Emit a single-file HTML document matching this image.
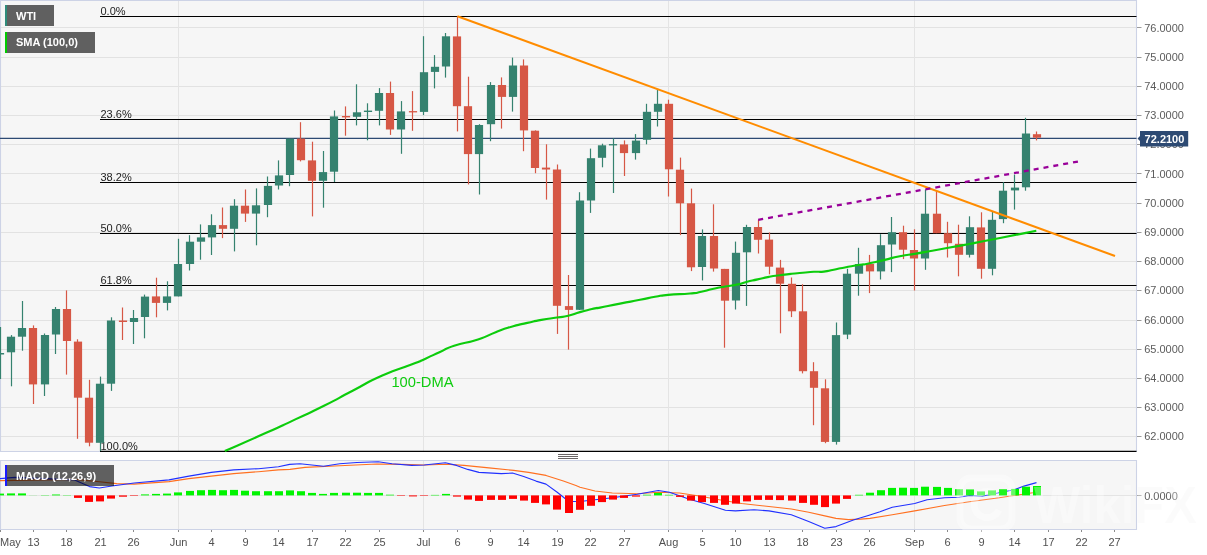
<!DOCTYPE html><html><head><meta charset="utf-8"><title>WTI</title>
<style>html,body{margin:0;padding:0;background:#fff;}body{width:1207px;height:555px;overflow:hidden;position:relative;font-family:"Liberation Sans",sans-serif;}svg{position:absolute;left:0;top:0;will-change:transform;}text{font-family:"Liberation Sans",sans-serif;}</style></head><body>
<svg width="1207" height="555" viewBox="0 0 1207 555">
<defs><clipPath id="wc"><rect x="1137" y="460" width="70" height="95"/></clipPath></defs>
<rect x="0" y="0" width="1136.5" height="451.5" fill="#f6f6f6"/>
<rect x="0" y="460.5" width="1136.5" height="69.0" fill="#f6f6f6"/>
<g stroke="#e2e2e2" stroke-width="1">
<line x1="0" y1="436.5" x2="1136.5" y2="436.5"/>
<line x1="0" y1="407.5" x2="1136.5" y2="407.5"/>
<line x1="0" y1="378.5" x2="1136.5" y2="378.5"/>
<line x1="0" y1="349.5" x2="1136.5" y2="349.5"/>
<line x1="0" y1="320.5" x2="1136.5" y2="320.5"/>
<line x1="0" y1="290.5" x2="1136.5" y2="290.5"/>
<line x1="0" y1="261.5" x2="1136.5" y2="261.5"/>
<line x1="0" y1="232.5" x2="1136.5" y2="232.5"/>
<line x1="0" y1="203.5" x2="1136.5" y2="203.5"/>
<line x1="0" y1="173.5" x2="1136.5" y2="173.5"/>
<line x1="0" y1="144.5" x2="1136.5" y2="144.5"/>
<line x1="0" y1="115.5" x2="1136.5" y2="115.5"/>
<line x1="0" y1="86.5" x2="1136.5" y2="86.5"/>
<line x1="0" y1="57.5" x2="1136.5" y2="57.5"/>
<line x1="0" y1="27.5" x2="1136.5" y2="27.5"/>
</g>
<g stroke="#e4e4e4" stroke-width="1" shape-rendering="crispEdges">
<line x1="178.5" y1="0" x2="178.5" y2="451.5"/>
<line x1="178.5" y1="460.5" x2="178.5" y2="529.5"/>
<line x1="423.5" y1="0" x2="423.5" y2="451.5"/>
<line x1="423.5" y1="460.5" x2="423.5" y2="529.5"/>
<line x1="668.5" y1="0" x2="668.5" y2="451.5"/>
<line x1="668.5" y1="460.5" x2="668.5" y2="529.5"/>
<line x1="914.5" y1="0" x2="914.5" y2="451.5"/>
<line x1="914.5" y1="460.5" x2="914.5" y2="529.5"/>
<line x1="0" y1="495.5" x2="1136.5" y2="495.5"/>
</g>
<g stroke="#cdd3e6" stroke-width="1.1" fill="none">
<path d="M0.5,451.5 V0.5 H1136.5 V451.5 Z"/>
<path d="M0.5,529.5 V460.5 H1136.5 V529.5 Z"/>
</g>
<g stroke="#9a9a9a" stroke-width="1">
<line x1="1137.0" y1="436.5" x2="1141.5" y2="436.5"/>
<line x1="1137.0" y1="407.5" x2="1141.5" y2="407.5"/>
<line x1="1137.0" y1="378.5" x2="1141.5" y2="378.5"/>
<line x1="1137.0" y1="349.5" x2="1141.5" y2="349.5"/>
<line x1="1137.0" y1="320.5" x2="1141.5" y2="320.5"/>
<line x1="1137.0" y1="290.5" x2="1141.5" y2="290.5"/>
<line x1="1137.0" y1="261.5" x2="1141.5" y2="261.5"/>
<line x1="1137.0" y1="232.5" x2="1141.5" y2="232.5"/>
<line x1="1137.0" y1="203.5" x2="1141.5" y2="203.5"/>
<line x1="1137.0" y1="173.5" x2="1141.5" y2="173.5"/>
<line x1="1137.0" y1="144.5" x2="1141.5" y2="144.5"/>
<line x1="1137.0" y1="115.5" x2="1141.5" y2="115.5"/>
<line x1="1137.0" y1="86.5" x2="1141.5" y2="86.5"/>
<line x1="1137.0" y1="57.5" x2="1141.5" y2="57.5"/>
<line x1="1137.0" y1="27.5" x2="1141.5" y2="27.5"/>
<line x1="1137.0" y1="495.5" x2="1141.5" y2="495.5"/>
</g>
<g font-size="11" fill="#5c5c5c">
<text x="1144.2" y="440.4">62.0000</text>
<text x="1144.2" y="411.2">63.0000</text>
<text x="1144.2" y="382.0">64.0000</text>
<text x="1144.2" y="352.8">65.0000</text>
<text x="1144.2" y="323.6">66.0000</text>
<text x="1144.2" y="294.4">67.0000</text>
<text x="1144.2" y="265.2">68.0000</text>
<text x="1144.2" y="236.0">69.0000</text>
<text x="1144.2" y="206.8">70.0000</text>
<text x="1144.2" y="177.6">71.0000</text>
<text x="1144.2" y="148.3">72.0000</text>
<text x="1144.2" y="119.1">73.0000</text>
<text x="1144.2" y="89.9">74.0000</text>
<text x="1144.2" y="60.7">75.0000</text>
<text x="1144.2" y="31.5">76.0000</text>
<text x="1144.2" y="499.9">0.0000</text>
</g>
<g stroke="#000" stroke-width="1.15">
<line x1="100" y1="16.5" x2="1136.5" y2="16.5"/>
<line x1="100" y1="119.5" x2="1136.5" y2="119.5"/>
<line x1="100" y1="182.5" x2="1136.5" y2="182.5"/>
<line x1="100" y1="233.5" x2="1136.5" y2="233.5"/>
<line x1="100" y1="285.5" x2="1136.5" y2="285.5"/>
<line x1="100" y1="451.3" x2="1136.5" y2="451.3"/>
</g>
<g font-size="11" fill="#222">
<text x="100.5" y="14.9">0.0%</text>
<text x="100.5" y="117.9">23.6%</text>
<text x="100.5" y="180.9">38.2%</text>
<text x="100.5" y="231.9">50.0%</text>
<text x="100.5" y="283.9">61.8%</text>
<text x="100.5" y="449.7">100.0%</text>
</g>
<line x1="0" y1="138.4" x2="1136.5" y2="138.4" stroke="#2d4a73" stroke-width="1.1"/>
<rect x="-0.10" y="327.0" width="1.2" height="52.0" fill="#35826f"/>
<rect x="-4.10" y="353.0" width="8.2" height="1.5" fill="#35826f"/>
<rect x="10.90" y="335.1" width="1.2" height="51.2" fill="#35826f"/>
<rect x="6.90" y="336.7" width="8.2" height="15.6" fill="#35826f"/>
<rect x="21.90" y="301.0" width="1.2" height="49.7" fill="#35826f"/>
<rect x="17.90" y="328.0" width="8.2" height="8.7" fill="#35826f"/>
<rect x="32.90" y="325.4" width="1.2" height="78.6" fill="#d65745"/>
<rect x="28.90" y="328.0" width="8.2" height="56.4" fill="#d65745"/>
<rect x="43.90" y="333.5" width="1.2" height="62.5" fill="#35826f"/>
<rect x="40.90" y="335.0" width="8.2" height="49.4" fill="#35826f"/>
<rect x="54.90" y="307.0" width="1.2" height="47.0" fill="#35826f"/>
<rect x="51.90" y="309.0" width="8.2" height="25.5" fill="#35826f"/>
<rect x="65.90" y="290.4" width="1.2" height="84.2" fill="#d65745"/>
<rect x="62.90" y="309.0" width="8.2" height="32.0" fill="#d65745"/>
<rect x="76.90" y="339.3" width="1.2" height="99.5" fill="#d65745"/>
<rect x="73.90" y="341.6" width="8.2" height="56.1" fill="#d65745"/>
<rect x="88.90" y="379.8" width="1.2" height="66.5" fill="#d65745"/>
<rect x="84.90" y="397.7" width="8.2" height="45.0" fill="#d65745"/>
<rect x="99.90" y="376.6" width="1.2" height="74.4" fill="#35826f"/>
<rect x="95.90" y="383.7" width="8.2" height="59.1" fill="#35826f"/>
<rect x="110.90" y="317.3" width="1.2" height="73.6" fill="#35826f"/>
<rect x="106.90" y="320.5" width="8.2" height="63.2" fill="#35826f"/>
<rect x="121.90" y="307.5" width="1.2" height="32.5" fill="#d65745"/>
<rect x="118.90" y="320.5" width="8.2" height="1.5" fill="#d65745"/>
<rect x="132.90" y="310.0" width="1.2" height="34.0" fill="#35826f"/>
<rect x="129.90" y="318.0" width="8.2" height="4.0" fill="#35826f"/>
<rect x="143.90" y="294.6" width="1.2" height="43.7" fill="#35826f"/>
<rect x="140.90" y="296.6" width="8.2" height="20.4" fill="#35826f"/>
<rect x="155.90" y="277.7" width="1.2" height="39.6" fill="#d65745"/>
<rect x="151.90" y="296.4" width="8.2" height="6.5" fill="#d65745"/>
<rect x="166.90" y="281.3" width="1.2" height="29.1" fill="#35826f"/>
<rect x="162.90" y="296.4" width="8.2" height="6.5" fill="#35826f"/>
<rect x="177.90" y="238.8" width="1.2" height="57.6" fill="#35826f"/>
<rect x="173.90" y="264.0" width="8.2" height="32.4" fill="#35826f"/>
<rect x="188.90" y="235.2" width="1.2" height="35.3" fill="#35826f"/>
<rect x="185.90" y="241.7" width="8.2" height="22.3" fill="#35826f"/>
<rect x="199.90" y="224.4" width="1.2" height="35.3" fill="#35826f"/>
<rect x="196.90" y="237.4" width="8.2" height="4.3" fill="#35826f"/>
<rect x="210.90" y="214.3" width="1.2" height="40.7" fill="#35826f"/>
<rect x="207.90" y="225.1" width="8.2" height="12.3" fill="#35826f"/>
<rect x="221.90" y="207.5" width="1.2" height="30.6" fill="#d65745"/>
<rect x="218.90" y="225.1" width="8.2" height="3.7" fill="#d65745"/>
<rect x="233.90" y="199.2" width="1.2" height="52.2" fill="#35826f"/>
<rect x="229.90" y="205.7" width="8.2" height="23.1" fill="#35826f"/>
<rect x="244.90" y="189.5" width="1.2" height="32.4" fill="#d65745"/>
<rect x="240.90" y="205.7" width="8.2" height="7.9" fill="#d65745"/>
<rect x="255.90" y="188.4" width="1.2" height="56.9" fill="#35826f"/>
<rect x="251.90" y="205.3" width="8.2" height="8.3" fill="#35826f"/>
<rect x="266.90" y="176.5" width="1.2" height="40.7" fill="#35826f"/>
<rect x="263.90" y="185.9" width="8.2" height="19.1" fill="#35826f"/>
<rect x="277.90" y="160.4" width="1.2" height="29.1" fill="#35826f"/>
<rect x="274.90" y="175.4" width="8.2" height="10.1" fill="#35826f"/>
<rect x="288.90" y="138.6" width="1.2" height="47.6" fill="#35826f"/>
<rect x="285.90" y="138.6" width="8.2" height="36.4" fill="#35826f"/>
<rect x="299.90" y="122.2" width="1.2" height="39.2" fill="#d65745"/>
<rect x="296.90" y="138.6" width="8.2" height="21.6" fill="#d65745"/>
<rect x="311.90" y="141.7" width="1.2" height="74.7" fill="#d65745"/>
<rect x="307.90" y="160.4" width="8.2" height="20.4" fill="#d65745"/>
<rect x="322.90" y="151.0" width="1.2" height="56.7" fill="#35826f"/>
<rect x="318.90" y="172.1" width="8.2" height="8.7" fill="#35826f"/>
<rect x="333.90" y="110.5" width="1.2" height="71.5" fill="#35826f"/>
<rect x="329.90" y="116.4" width="8.2" height="55.3" fill="#35826f"/>
<rect x="344.90" y="106.4" width="1.2" height="29.3" fill="#d65745"/>
<rect x="341.90" y="116.0" width="8.2" height="1.4" fill="#d65745"/>
<rect x="355.90" y="84.3" width="1.2" height="41.1" fill="#35826f"/>
<rect x="352.90" y="112.3" width="8.2" height="4.5" fill="#35826f"/>
<rect x="366.90" y="103.3" width="1.2" height="37.0" fill="#35826f"/>
<rect x="363.90" y="110.6" width="8.2" height="1.4" fill="#35826f"/>
<rect x="378.90" y="88.1" width="1.2" height="37.3" fill="#35826f"/>
<rect x="374.90" y="93.0" width="8.2" height="17.8" fill="#35826f"/>
<rect x="389.90" y="81.6" width="1.2" height="53.3" fill="#d65745"/>
<rect x="385.90" y="93.0" width="8.2" height="36.5" fill="#d65745"/>
<rect x="400.90" y="101.1" width="1.2" height="52.7" fill="#35826f"/>
<rect x="396.90" y="111.4" width="8.2" height="18.1" fill="#35826f"/>
<rect x="411.90" y="91.1" width="1.2" height="39.7" fill="#d65745"/>
<rect x="408.90" y="111.1" width="8.2" height="1.3" fill="#d65745"/>
<rect x="422.90" y="36.2" width="1.2" height="78.9" fill="#35826f"/>
<rect x="419.90" y="72.2" width="8.2" height="39.7" fill="#35826f"/>
<rect x="433.90" y="55.1" width="1.2" height="33.3" fill="#35826f"/>
<rect x="430.90" y="66.8" width="8.2" height="5.1" fill="#35826f"/>
<rect x="444.90" y="33.0" width="1.2" height="44.6" fill="#35826f"/>
<rect x="441.90" y="36.3" width="8.2" height="30.2" fill="#35826f"/>
<rect x="456.90" y="16.2" width="1.2" height="115.2" fill="#d65745"/>
<rect x="452.90" y="36.4" width="8.2" height="69.8" fill="#d65745"/>
<rect x="467.90" y="76.7" width="1.2" height="107.7" fill="#d65745"/>
<rect x="463.90" y="106.2" width="8.2" height="47.9" fill="#d65745"/>
<rect x="478.90" y="124.2" width="1.2" height="70.3" fill="#35826f"/>
<rect x="474.90" y="125.0" width="8.2" height="29.1" fill="#35826f"/>
<rect x="489.90" y="82.1" width="1.2" height="59.1" fill="#35826f"/>
<rect x="486.90" y="85.0" width="8.2" height="39.2" fill="#35826f"/>
<rect x="500.90" y="77.4" width="1.2" height="51.2" fill="#d65745"/>
<rect x="497.90" y="85.0" width="8.2" height="11.9" fill="#d65745"/>
<rect x="511.90" y="57.6" width="1.2" height="54.0" fill="#35826f"/>
<rect x="508.90" y="65.5" width="8.2" height="31.4" fill="#35826f"/>
<rect x="522.90" y="59.4" width="1.2" height="91.8" fill="#d65745"/>
<rect x="519.90" y="65.5" width="8.2" height="64.9" fill="#d65745"/>
<rect x="534.90" y="130.4" width="1.2" height="42.8" fill="#d65745"/>
<rect x="530.90" y="130.7" width="8.2" height="37.3" fill="#d65745"/>
<rect x="545.90" y="144.3" width="1.2" height="55.3" fill="#d65745"/>
<rect x="541.90" y="167.6" width="8.2" height="1.9" fill="#d65745"/>
<rect x="556.90" y="164.5" width="1.2" height="169.4" fill="#d65745"/>
<rect x="552.90" y="169.5" width="8.2" height="136.3" fill="#d65745"/>
<rect x="567.90" y="275.0" width="1.2" height="74.6" fill="#d65745"/>
<rect x="564.90" y="306.1" width="8.2" height="3.8" fill="#d65745"/>
<rect x="578.90" y="192.2" width="1.2" height="117.8" fill="#35826f"/>
<rect x="575.90" y="200.5" width="8.2" height="109.3" fill="#35826f"/>
<rect x="589.90" y="148.6" width="1.2" height="64.3" fill="#35826f"/>
<rect x="586.90" y="158.2" width="8.2" height="42.3" fill="#35826f"/>
<rect x="601.90" y="143.7" width="1.2" height="23.6" fill="#35826f"/>
<rect x="597.90" y="145.3" width="8.2" height="12.5" fill="#35826f"/>
<rect x="612.90" y="138.3" width="1.2" height="54.7" fill="#35826f"/>
<rect x="608.90" y="144.1" width="8.2" height="1.3" fill="#35826f"/>
<rect x="623.90" y="140.4" width="1.2" height="35.6" fill="#d65745"/>
<rect x="619.90" y="144.4" width="8.2" height="8.7" fill="#d65745"/>
<rect x="634.90" y="134.1" width="1.2" height="25.5" fill="#35826f"/>
<rect x="631.90" y="140.6" width="8.2" height="12.5" fill="#35826f"/>
<rect x="645.90" y="103.8" width="1.2" height="40.5" fill="#35826f"/>
<rect x="642.90" y="111.8" width="8.2" height="28.0" fill="#35826f"/>
<rect x="656.90" y="89.5" width="1.2" height="37.0" fill="#35826f"/>
<rect x="653.90" y="103.8" width="8.2" height="8.0" fill="#35826f"/>
<rect x="667.90" y="99.7" width="1.2" height="96.8" fill="#d65745"/>
<rect x="664.90" y="103.8" width="8.2" height="65.5" fill="#d65745"/>
<rect x="679.90" y="157.6" width="1.2" height="77.5" fill="#d65745"/>
<rect x="675.90" y="169.7" width="8.2" height="33.6" fill="#d65745"/>
<rect x="690.90" y="188.6" width="1.2" height="82.5" fill="#d65745"/>
<rect x="686.90" y="203.3" width="8.2" height="64.0" fill="#d65745"/>
<rect x="701.90" y="229.4" width="1.2" height="51.0" fill="#35826f"/>
<rect x="697.90" y="236.0" width="8.2" height="31.0" fill="#35826f"/>
<rect x="712.90" y="204.3" width="1.2" height="67.3" fill="#d65745"/>
<rect x="709.90" y="236.0" width="8.2" height="32.5" fill="#d65745"/>
<rect x="723.90" y="268.9" width="1.2" height="78.8" fill="#d65745"/>
<rect x="720.90" y="268.9" width="8.2" height="31.8" fill="#d65745"/>
<rect x="734.90" y="241.6" width="1.2" height="67.9" fill="#35826f"/>
<rect x="731.90" y="252.8" width="8.2" height="47.7" fill="#35826f"/>
<rect x="745.90" y="224.8" width="1.2" height="81.1" fill="#35826f"/>
<rect x="742.90" y="227.0" width="8.2" height="25.3" fill="#35826f"/>
<rect x="757.90" y="219.8" width="1.2" height="33.7" fill="#d65745"/>
<rect x="753.90" y="227.0" width="8.2" height="12.8" fill="#d65745"/>
<rect x="768.90" y="232.4" width="1.2" height="41.9" fill="#d65745"/>
<rect x="764.90" y="239.6" width="8.2" height="27.1" fill="#d65745"/>
<rect x="779.90" y="259.9" width="1.2" height="73.4" fill="#d65745"/>
<rect x="775.90" y="267.6" width="8.2" height="16.1" fill="#d65745"/>
<rect x="790.90" y="277.5" width="1.2" height="39.6" fill="#d65745"/>
<rect x="787.90" y="283.8" width="8.2" height="27.5" fill="#d65745"/>
<rect x="801.90" y="284.2" width="1.2" height="89.2" fill="#d65745"/>
<rect x="798.90" y="311.3" width="8.2" height="59.9" fill="#d65745"/>
<rect x="812.90" y="362.2" width="1.2" height="63.0" fill="#d65745"/>
<rect x="809.90" y="371.2" width="8.2" height="16.6" fill="#d65745"/>
<rect x="824.90" y="379.3" width="1.2" height="63.9" fill="#d65745"/>
<rect x="820.90" y="388.3" width="8.2" height="53.6" fill="#d65745"/>
<rect x="835.90" y="322.5" width="1.2" height="122.1" fill="#35826f"/>
<rect x="831.90" y="335.1" width="8.2" height="106.8" fill="#35826f"/>
<rect x="846.90" y="268.8" width="1.2" height="70.3" fill="#35826f"/>
<rect x="842.90" y="273.7" width="8.2" height="60.9" fill="#35826f"/>
<rect x="857.90" y="247.8" width="1.2" height="47.9" fill="#35826f"/>
<rect x="854.90" y="264.0" width="8.2" height="9.7" fill="#35826f"/>
<rect x="868.90" y="254.9" width="1.2" height="38.2" fill="#d65745"/>
<rect x="865.90" y="264.0" width="8.2" height="7.4" fill="#d65745"/>
<rect x="879.90" y="234.2" width="1.2" height="45.3" fill="#35826f"/>
<rect x="876.90" y="245.2" width="8.2" height="26.2" fill="#35826f"/>
<rect x="890.90" y="217.0" width="1.2" height="55.1" fill="#35826f"/>
<rect x="887.90" y="232.2" width="8.2" height="12.3" fill="#35826f"/>
<rect x="902.90" y="225.7" width="1.2" height="33.4" fill="#d65745"/>
<rect x="898.90" y="232.2" width="8.2" height="17.5" fill="#d65745"/>
<rect x="913.90" y="229.3" width="1.2" height="61.2" fill="#d65745"/>
<rect x="909.90" y="250.0" width="8.2" height="8.5" fill="#d65745"/>
<rect x="924.90" y="189.4" width="1.2" height="80.4" fill="#35826f"/>
<rect x="920.90" y="213.7" width="8.2" height="44.8" fill="#35826f"/>
<rect x="935.90" y="191.1" width="1.2" height="42.1" fill="#d65745"/>
<rect x="932.90" y="213.7" width="8.2" height="19.5" fill="#d65745"/>
<rect x="946.90" y="221.8" width="1.2" height="35.7" fill="#d65745"/>
<rect x="943.90" y="233.2" width="8.2" height="10.0" fill="#d65745"/>
<rect x="957.90" y="224.7" width="1.2" height="51.6" fill="#d65745"/>
<rect x="954.90" y="243.8" width="8.2" height="11.0" fill="#d65745"/>
<rect x="968.90" y="216.3" width="1.2" height="41.2" fill="#35826f"/>
<rect x="965.90" y="227.2" width="8.2" height="27.6" fill="#35826f"/>
<rect x="980.90" y="212.3" width="1.2" height="66.4" fill="#d65745"/>
<rect x="976.90" y="227.4" width="8.2" height="41.4" fill="#d65745"/>
<rect x="991.90" y="211.3" width="1.2" height="64.0" fill="#35826f"/>
<rect x="987.90" y="219.8" width="8.2" height="49.0" fill="#35826f"/>
<rect x="1002.90" y="182.2" width="1.2" height="41.0" fill="#35826f"/>
<rect x="998.90" y="190.7" width="8.2" height="28.4" fill="#35826f"/>
<rect x="1013.90" y="174.6" width="1.2" height="35.0" fill="#35826f"/>
<rect x="1010.90" y="187.6" width="8.2" height="2.8" fill="#35826f"/>
<rect x="1024.90" y="117.8" width="1.2" height="72.9" fill="#35826f"/>
<rect x="1021.90" y="133.5" width="8.2" height="53.8" fill="#35826f"/>
<rect x="1035.90" y="131.5" width="1.2" height="8.9" fill="#d65745"/>
<rect x="1032.90" y="134.2" width="8.2" height="3.5" fill="#d65745"/>
<path d="M224.8,451.0 C238.4,445.0 242.3,443.6 265.6,433.1 C288.9,422.6 275.3,428.7 294.8,419.6 C314.3,410.5 304.6,415.5 324.0,405.8 C343.4,396.1 333.7,400.6 353.1,390.5 C372.5,380.4 362.9,384.1 382.3,375.5 C401.7,366.9 396.8,370.3 411.4,364.6 C426.0,358.9 416.5,362.6 426.0,358.4 C435.5,354.2 430.6,356.2 440.0,352.0 C449.4,347.8 441.4,349.9 454.1,345.7 C466.8,341.5 463.9,344.0 478.0,339.4 C492.1,334.8 484.6,336.3 496.3,331.9 C508.0,327.5 502.9,329.3 513.2,326.3 C523.5,323.3 517.9,325.0 527.3,322.9 C536.7,320.8 531.5,321.7 541.4,319.9 C551.3,318.1 548.0,318.9 556.9,317.5 C565.8,316.1 560.2,317.7 568.2,315.8 C576.2,313.9 571.9,314.4 580.8,311.9 C589.7,309.4 588.5,309.8 594.9,308.4 C601.3,307.0 591.6,309.2 600.0,307.6 C608.4,306.0 606.7,306.2 620.0,303.6 C633.3,301.0 628.3,302.1 640.0,299.8 C651.7,297.5 645.7,298.4 655.0,296.8 C664.3,295.2 656.3,296.0 668.0,294.9 C679.7,293.8 678.9,294.5 690.0,293.5 C701.1,292.5 693.8,293.3 701.3,291.8 C708.8,290.3 704.5,290.8 712.5,289.0 C720.5,287.2 716.7,288.0 725.2,286.5 C733.7,285.0 730.9,285.9 737.9,284.4 C744.9,282.9 739.7,283.7 746.3,282.0 C752.9,280.3 750.1,281.1 757.6,279.4 C765.1,277.7 761.4,278.3 768.9,276.9 C776.4,275.5 772.6,276.2 780.1,275.2 C787.6,274.2 783.9,274.6 791.4,273.8 C798.9,273.0 795.2,273.5 802.7,272.8 C810.2,272.1 806.9,272.2 813.9,271.8 C820.9,271.4 817.2,272.3 823.8,271.6 C830.4,270.9 826.7,271.1 833.7,269.7 C840.7,268.3 836.1,269.1 844.9,267.5 C853.7,265.9 852.5,266.0 860.0,264.8 C867.5,263.6 859.5,265.4 867.4,263.8 C875.3,262.2 872.8,262.6 883.6,260.1 C894.4,257.6 889.0,258.4 899.8,256.2 C910.6,254.0 905.2,255.4 916.0,253.6 C926.8,251.8 921.4,252.6 932.2,250.7 C943.0,248.8 937.6,249.7 948.4,247.8 C959.2,245.9 955.7,246.5 964.6,244.9 C973.5,243.3 963.2,245.2 975.0,242.9 C986.8,240.6 979.6,242.0 1000.0,238.0 C1020.4,234.0 1024.2,233.2 1036.3,230.8" fill="none" stroke="#0ccc0c" stroke-width="2.15" stroke-linejoin="round"/>
<line x1="457.4" y1="16.2" x2="1115" y2="256" stroke="#ff8c00" stroke-width="2.05"/>
<line x1="758.2" y1="219.8" x2="1078" y2="161.5" stroke="#990099" stroke-width="2.3" stroke-dasharray="5,5"/>
<text x="391.4" y="386.9" font-size="15.3" fill="#10cc10" textLength="62.2" lengthAdjust="spacingAndGlyphs">100-DMA</text>
<polyline points="0.0,480.6 74.6,479.4 99.4,481.8 116.8,483.6 134.2,484.1 169.0,481.6 188.9,478.6 211.3,476.1 233.7,473.6 258.5,471.7 278.4,469.9 290.0,469.4 305.0,467.4 339.7,465.7 377.0,464.0 401.9,464.4 424.2,465.0 446.6,464.2 464.0,465.4 488.9,467.9 513.7,470.4 528.6,472.4 546.0,475.4 563.4,481.1 575.9,485.6 580.0,487.3 595.0,491.0 612.3,493.0 637.2,493.8 658.3,492.3 679.4,493.0 699.3,496.0 719.2,499.7 741.6,503.5 768.9,506.5 791.3,509.0 808.7,512.2 824.8,515.9 836.0,518.4 848.5,519.6 860.9,519.1 870.0,518.4 892.3,514.7 914.7,510.9 944.5,505.5 969.4,501.7 999.2,497.8 1014.1,495.5 1032.8,492.8" fill="none" stroke="#ff7020" stroke-width="1.1" stroke-linejoin="round"/>
<polyline points="0.0,478.6 15.0,477.4 74.6,479.9 89.5,486.6 99.4,488.0 111.9,486.0 134.2,483.0 169.0,479.9 188.9,476.1 211.3,472.4 233.7,469.9 258.5,468.7 278.4,466.7 289.6,464.4 300.0,463.7 323.6,466.2 339.7,463.7 357.0,462.5 378.2,461.7 392.0,463.7 411.8,465.4 424.2,465.0 445.4,462.7 456.5,465.4 467.7,469.4 479.0,472.4 501.3,473.6 512.5,473.1 523.7,476.6 536.0,481.1 546.0,484.1 557.2,492.3 566.0,499.2 570.9,501.5 580.0,501.5 595.0,499.7 612.3,497.8 637.2,494.3 658.3,490.5 669.5,492.3 689.4,499.2 704.3,503.5 725.4,510.2 735.4,510.9 754.0,509.7 768.9,510.9 791.3,514.7 808.7,521.6 824.8,528.3 836.0,526.6 853.4,520.1 868.3,515.4 880.0,511.7 892.3,507.2 914.7,503.5 927.1,499.7 944.5,497.8 959.4,497.3 969.4,495.5 981.8,496.3 999.2,492.8 1014.1,489.8 1024.0,486.1 1036.5,482.6" fill="none" stroke="#2030ff" stroke-width="1.1" stroke-linejoin="round"/>
<rect x="-4" y="493.6" width="8" height="1.8" fill="#00f400"/>
<rect x="7" y="493.4" width="8" height="2.0" fill="#00f400"/>
<rect x="18" y="493.4" width="8" height="2.0" fill="#00f400"/>
<rect x="29" y="495.2" width="8" height="0.1" fill="#00f400"/>
<rect x="41" y="495.1" width="8" height="0.3" fill="#00f400"/>
<rect x="52" y="494.5" width="8" height="0.9" fill="#00f400"/>
<rect x="63" y="495.1" width="8" height="0.3" fill="#00f400"/>
<rect x="74" y="495.4" width="8" height="2.5" fill="#ff0000"/>
<rect x="85" y="495.4" width="8" height="6.5" fill="#ff0000"/>
<rect x="96" y="495.4" width="8" height="6.0" fill="#ff0000"/>
<rect x="107" y="495.4" width="8" height="3.2" fill="#ff0000"/>
<rect x="119" y="495.4" width="8" height="1.3" fill="#ff0000"/>
<rect x="130" y="495.4" width="8" height="0.5" fill="#ff0000"/>
<rect x="141" y="494.4" width="8" height="1.0" fill="#00f400"/>
<rect x="152" y="493.9" width="8" height="1.5" fill="#00f400"/>
<rect x="163" y="493.6" width="8" height="1.8" fill="#00f400"/>
<rect x="174" y="492.4" width="8" height="3.0" fill="#00f400"/>
<rect x="186" y="490.9" width="8" height="4.5" fill="#00f400"/>
<rect x="197" y="490.2" width="8" height="5.2" fill="#00f400"/>
<rect x="208" y="489.9" width="8" height="5.5" fill="#00f400"/>
<rect x="219" y="490.2" width="8" height="5.2" fill="#00f400"/>
<rect x="230" y="489.9" width="8" height="5.5" fill="#00f400"/>
<rect x="241" y="490.7" width="8" height="4.7" fill="#00f400"/>
<rect x="252" y="491.2" width="8" height="4.2" fill="#00f400"/>
<rect x="264" y="491.2" width="8" height="4.2" fill="#00f400"/>
<rect x="275" y="491.2" width="8" height="4.2" fill="#00f400"/>
<rect x="286" y="490.4" width="8" height="5.0" fill="#00f400"/>
<rect x="297" y="491.2" width="8" height="4.2" fill="#00f400"/>
<rect x="308" y="492.9" width="8" height="2.5" fill="#00f400"/>
<rect x="319" y="493.9" width="8" height="1.5" fill="#00f400"/>
<rect x="330" y="492.9" width="8" height="2.5" fill="#00f400"/>
<rect x="342" y="492.7" width="8" height="2.7" fill="#00f400"/>
<rect x="353" y="492.7" width="8" height="2.7" fill="#00f400"/>
<rect x="364" y="492.9" width="8" height="2.5" fill="#00f400"/>
<rect x="375" y="492.9" width="8" height="2.5" fill="#00f400"/>
<rect x="386" y="494.7" width="8" height="0.7" fill="#00f400"/>
<rect x="397" y="495.4" width="8" height="0.5" fill="#ff0000"/>
<rect x="409" y="495.4" width="8" height="1.0" fill="#ff0000"/>
<rect x="420" y="495.4" width="8" height="0.5" fill="#ff0000"/>
<rect x="431" y="494.9" width="8" height="0.5" fill="#00f400"/>
<rect x="442" y="493.9" width="8" height="1.5" fill="#00f400"/>
<rect x="453" y="495.4" width="8" height="1.2" fill="#ff0000"/>
<rect x="464" y="495.4" width="8" height="4.2" fill="#ff0000"/>
<rect x="475" y="495.4" width="8" height="5.5" fill="#ff0000"/>
<rect x="487" y="495.4" width="8" height="4.5" fill="#ff0000"/>
<rect x="498" y="495.4" width="8" height="4.5" fill="#ff0000"/>
<rect x="509" y="495.4" width="8" height="3.5" fill="#ff0000"/>
<rect x="520" y="495.4" width="8" height="5.2" fill="#ff0000"/>
<rect x="531" y="495.4" width="8" height="7.5" fill="#ff0000"/>
<rect x="542" y="495.4" width="8" height="9.0" fill="#ff0000"/>
<rect x="553" y="495.4" width="8" height="14.2" fill="#ff0000"/>
<rect x="565" y="495.4" width="8" height="17.6" fill="#ff0000"/>
<rect x="576" y="495.4" width="8" height="14.4" fill="#ff0000"/>
<rect x="587" y="495.4" width="8" height="10.4" fill="#ff0000"/>
<rect x="598" y="495.4" width="8" height="6.7" fill="#ff0000"/>
<rect x="609" y="495.4" width="8" height="4.2" fill="#ff0000"/>
<rect x="620" y="495.4" width="8" height="2.5" fill="#ff0000"/>
<rect x="632" y="495.4" width="8" height="1.2" fill="#ff0000"/>
<rect x="643" y="494.7" width="8" height="0.7" fill="#00f400"/>
<rect x="654" y="492.9" width="8" height="2.5" fill="#00f400"/>
<rect x="665" y="494.8" width="8" height="0.6" fill="#00f400"/>
<rect x="676" y="495.4" width="8" height="1.5" fill="#ff0000"/>
<rect x="687" y="495.4" width="8" height="5.2" fill="#ff0000"/>
<rect x="698" y="495.4" width="8" height="6.7" fill="#ff0000"/>
<rect x="710" y="495.4" width="8" height="7.5" fill="#ff0000"/>
<rect x="721" y="495.4" width="8" height="9.4" fill="#ff0000"/>
<rect x="732" y="495.4" width="8" height="8.2" fill="#ff0000"/>
<rect x="743" y="495.4" width="8" height="6.0" fill="#ff0000"/>
<rect x="754" y="495.4" width="8" height="4.5" fill="#ff0000"/>
<rect x="765" y="495.4" width="8" height="4.5" fill="#ff0000"/>
<rect x="776" y="495.4" width="8" height="4.7" fill="#ff0000"/>
<rect x="788" y="495.4" width="8" height="5.2" fill="#ff0000"/>
<rect x="799" y="495.4" width="8" height="7.5" fill="#ff0000"/>
<rect x="810" y="495.4" width="8" height="9.4" fill="#ff0000"/>
<rect x="821" y="495.4" width="8" height="11.7" fill="#ff0000"/>
<rect x="832" y="495.4" width="8" height="8.2" fill="#ff0000"/>
<rect x="843" y="495.4" width="8" height="3.5" fill="#ff0000"/>
<rect x="855" y="494.8" width="8" height="0.6" fill="#00f400"/>
<rect x="866" y="492.7" width="8" height="2.7" fill="#00f400"/>
<rect x="877" y="490.2" width="8" height="5.2" fill="#00f400"/>
<rect x="888" y="487.9" width="8" height="7.5" fill="#00f400"/>
<rect x="899" y="487.7" width="8" height="7.7" fill="#00f400"/>
<rect x="910" y="487.9" width="8" height="7.5" fill="#00f400"/>
<rect x="921" y="486.7" width="8" height="8.7" fill="#00f400"/>
<rect x="933" y="486.9" width="8" height="8.5" fill="#00f400"/>
<rect x="944" y="487.9" width="8" height="7.5" fill="#00f400"/>
<rect x="955" y="489.2" width="8" height="6.2" fill="#00f400"/>
<rect x="966" y="489.4" width="8" height="6.0" fill="#00f400"/>
<rect x="977" y="491.4" width="8" height="4.0" fill="#00f400"/>
<rect x="988" y="490.4" width="8" height="5.0" fill="#00f400"/>
<rect x="999" y="489.2" width="8" height="6.2" fill="#00f400"/>
<rect x="1011" y="488.9" width="8" height="6.5" fill="#00f400"/>
<rect x="1022" y="486.7" width="8" height="8.7" fill="#00f400"/>
<rect x="1033" y="486.0" width="8" height="9.4" fill="#00f400"/>
<g stroke="#6a6565" stroke-width="1" shape-rendering="crispEdges">
<line x1="558" y1="454.5" x2="578" y2="454.5"/>
<line x1="558" y1="456.5" x2="578" y2="456.5"/>
<line x1="558" y1="458.5" x2="578" y2="458.5"/>
</g>
<g stroke="#8a8a8a" stroke-width="1" shape-rendering="crispEdges">
<line x1="0.5" y1="530.0" x2="0.5" y2="532.0"/>
<line x1="33.5" y1="530.0" x2="33.5" y2="532.0"/>
<line x1="66.5" y1="530.0" x2="66.5" y2="532.0"/>
<line x1="100.5" y1="530.0" x2="100.5" y2="532.0"/>
<line x1="133.5" y1="530.0" x2="133.5" y2="532.0"/>
<line x1="178.5" y1="530.0" x2="178.5" y2="532.0"/>
<line x1="211.5" y1="530.0" x2="211.5" y2="532.0"/>
<line x1="245.5" y1="530.0" x2="245.5" y2="532.0"/>
<line x1="278.5" y1="530.0" x2="278.5" y2="532.0"/>
<line x1="312.5" y1="530.0" x2="312.5" y2="532.0"/>
<line x1="345.5" y1="530.0" x2="345.5" y2="532.0"/>
<line x1="379.5" y1="530.0" x2="379.5" y2="532.0"/>
<line x1="423.5" y1="530.0" x2="423.5" y2="532.0"/>
<line x1="457.5" y1="530.0" x2="457.5" y2="532.0"/>
<line x1="490.5" y1="530.0" x2="490.5" y2="532.0"/>
<line x1="523.5" y1="530.0" x2="523.5" y2="532.0"/>
<line x1="557.5" y1="530.0" x2="557.5" y2="532.0"/>
<line x1="590.5" y1="530.0" x2="590.5" y2="532.0"/>
<line x1="624.5" y1="530.0" x2="624.5" y2="532.0"/>
<line x1="668.5" y1="530.0" x2="668.5" y2="532.0"/>
<line x1="702.5" y1="530.0" x2="702.5" y2="532.0"/>
<line x1="735.5" y1="530.0" x2="735.5" y2="532.0"/>
<line x1="769.5" y1="530.0" x2="769.5" y2="532.0"/>
<line x1="802.5" y1="530.0" x2="802.5" y2="532.0"/>
<line x1="836.5" y1="530.0" x2="836.5" y2="532.0"/>
<line x1="869.5" y1="530.0" x2="869.5" y2="532.0"/>
<line x1="914.5" y1="530.0" x2="914.5" y2="532.0"/>
<line x1="947.5" y1="530.0" x2="947.5" y2="532.0"/>
<line x1="981.5" y1="530.0" x2="981.5" y2="532.0"/>
<line x1="1014.5" y1="530.0" x2="1014.5" y2="532.0"/>
<line x1="1048.5" y1="530.0" x2="1048.5" y2="532.0"/>
<line x1="1081.5" y1="530.0" x2="1081.5" y2="532.0"/>
<line x1="1114.5" y1="530.0" x2="1114.5" y2="532.0"/>
</g>
<g font-size="11" fill="#505050" text-anchor="middle">
<text x="0" y="545.8" text-anchor="start">May</text>
<text x="33.5" y="545.8">13</text>
<text x="66.5" y="545.8">18</text>
<text x="100.5" y="545.8">21</text>
<text x="133.5" y="545.8">26</text>
<text x="178.5" y="545.8">Jun</text>
<text x="211.5" y="545.8">4</text>
<text x="245.5" y="545.8">9</text>
<text x="278.5" y="545.8">14</text>
<text x="312.5" y="545.8">17</text>
<text x="345.5" y="545.8">22</text>
<text x="379.5" y="545.8">25</text>
<text x="423.5" y="545.8">Jul</text>
<text x="457.5" y="545.8">6</text>
<text x="490.5" y="545.8">9</text>
<text x="523.5" y="545.8">14</text>
<text x="557.5" y="545.8">19</text>
<text x="590.5" y="545.8">22</text>
<text x="624.5" y="545.8">27</text>
<text x="668.5" y="545.8">Aug</text>
<text x="702.5" y="545.8">5</text>
<text x="735.5" y="545.8">10</text>
<text x="769.5" y="545.8">13</text>
<text x="802.5" y="545.8">18</text>
<text x="836.5" y="545.8">23</text>
<text x="869.5" y="545.8">26</text>
<text x="914.5" y="545.8">Sep</text>
<text x="947.5" y="545.8">6</text>
<text x="981.5" y="545.8">9</text>
<text x="1014.5" y="545.8">14</text>
<text x="1048.5" y="545.8">17</text>
<text x="1081.5" y="545.8">22</text>
<text x="1114.5" y="545.8">27</text>
</g>
<rect x="5" y="5" width="49" height="21" fill="#000" fill-opacity="0.61"/><rect x="5" y="5" width="2" height="21" fill="#2e8b7a"/>
<text x="16" y="19.9" font-size="11" font-weight="bold" fill="#fff">WTI</text>
<rect x="5" y="32" width="90" height="21" fill="#000" fill-opacity="0.61"/><rect x="5" y="32" width="2" height="21" fill="#00cc00"/>
<text x="16" y="45.8" font-size="11" font-weight="bold" fill="#fff">SMA (100,0)</text>
<rect x="5" y="465" width="109" height="21" fill="#000" fill-opacity="0.61"/><rect x="5" y="465" width="2" height="21" fill="#1a1aff"/>
<text x="16" y="479.7" font-size="11" font-weight="bold" fill="#fff">MACD (12,26,9)</text>
<path d="M1137.5,138.5 L1140,136 V131 H1188.2 V146.6 H1140 V141 Z" fill="#2d4a73"/>
<text x="1144.6" y="142.7" font-size="11" font-weight="bold" fill="#fff">72.2100</text>
<rect x="960" y="478" width="52" height="51" rx="11" fill="#ffffff" fill-opacity="0.12" stroke="#ffffff" stroke-opacity="0.4" stroke-width="7"/>
<path d="M997,496 A13,13 0 1 0 999,510" fill="none" stroke="#ffffff" stroke-opacity="0.35" stroke-width="7"/>
<text x="1034" y="523" font-size="52" font-weight="bold" fill="#000000" fill-opacity="0.025" textLength="163" lengthAdjust="spacingAndGlyphs" clip-path="url(#wc)">WikiFX</text>
<text x="1034" y="523" font-size="52" font-weight="bold" fill="#ffffff" fill-opacity="0.32" textLength="163" lengthAdjust="spacingAndGlyphs">WikiFX</text>
</svg></body></html>
